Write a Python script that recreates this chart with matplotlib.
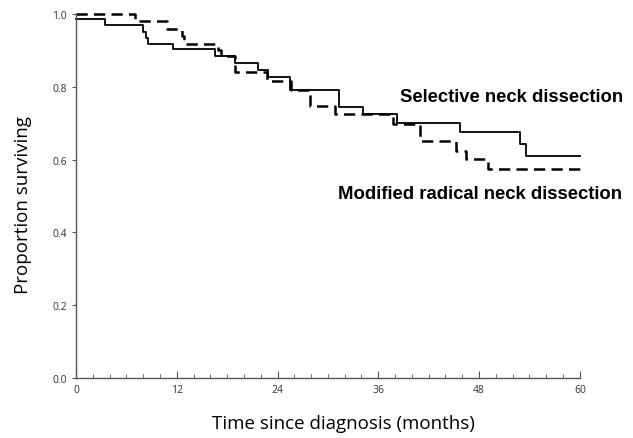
import matplotlib.pyplot as plt
from matplotlib.ticker import MultipleLocator

# Kaplan-Meier step curves (months, proportion surviving)
snd_time = [0, 3.5, 8.0, 8.3, 8.6, 11.6, 16.5, 18.9, 21.7, 22.9, 25.5, 31.3, 34.2, 38.2, 45.7, 52.9, 53.6, 60]
snd_surv = [0.986, 0.970, 0.950, 0.933, 0.918, 0.903, 0.884, 0.866, 0.845, 0.827, 0.792, 0.744, 0.725, 0.700, 0.675, 0.643, 0.611, 0.611]

mrnd_time = [0, 7.0, 10.8, 12.6, 12.9, 16.9, 17.3, 18.9, 22.7, 25.6, 27.9, 30.8, 37.8, 41.0, 45.3, 46.5, 49.1, 60]
mrnd_surv = [1.0, 0.982, 0.960, 0.940, 0.919, 0.900, 0.884, 0.840, 0.817, 0.792, 0.747, 0.725, 0.698, 0.652, 0.624, 0.602, 0.574, 0.574]

plt.rcParams['font.family'] = ['Open Sans', 'DejaVu Sans']

W, H = 633, 439
fig = plt.figure(figsize=(W / 100, H / 100), dpi=100)
ax = fig.add_axes([0.120, 0.1367, 0.796, 0.829])

ax.step(snd_time, snd_surv, where='post', color='black', lw=1.3, clip_on=False)
ax.step(mrnd_time, mrnd_surv, where='post', color='black', lw=1.8,
        linestyle=(0, (4.5, 2.5)), clip_on=False)

ax.set_xlim(0, 60)
ax.set_ylim(0, 1.0)
ax.xaxis.set_major_locator(MultipleLocator(12))
ax.xaxis.set_minor_locator(MultipleLocator(2))
ax.yaxis.set_major_locator(MultipleLocator(0.2))
ax.yaxis.set_major_formatter(plt.FormatStrFormatter('%.1f'))

for s in ['top', 'right']:
    ax.spines[s].set_visible(False)
for s in ['left', 'bottom']:
    ax.spines[s].set_color('#555555')
    ax.spines[s].set_linewidth(1.0)

ax.tick_params(axis='x', which='major', direction='in', length=5, color='#555555',
               labelsize=7.5, labelcolor='#333333', pad=4)
ax.tick_params(axis='x', which='minor', direction='in', length=3, color='#555555')
ax.tick_params(axis='y', which='major', direction='out', length=3, color='#555555',
               labelsize=7.5, labelcolor='#333333')

ax.set_xlabel('Time since diagnosis (months)', fontsize=13.5, va='center')
ax.xaxis.set_label_coords(0.530, -0.124)
ax.set_ylabel('Proportion surviving', fontsize=13.5, va='center')
ax.yaxis.set_label_coords(-0.105, 0.478)

# curve labels placed in pixel positions
fig.text(400 / W, 1 - 97 / H, 'Selective neck dissection', fontsize=13.3,
         fontweight='bold', family='Liberation Sans', va='center')
fig.text(338 / W, 1 - 195 / H, 'Modified radical neck dissection', fontsize=13.3,
         fontweight='bold', family='Liberation Sans', va='center')

fig.savefig('out.png', dpi=100)
